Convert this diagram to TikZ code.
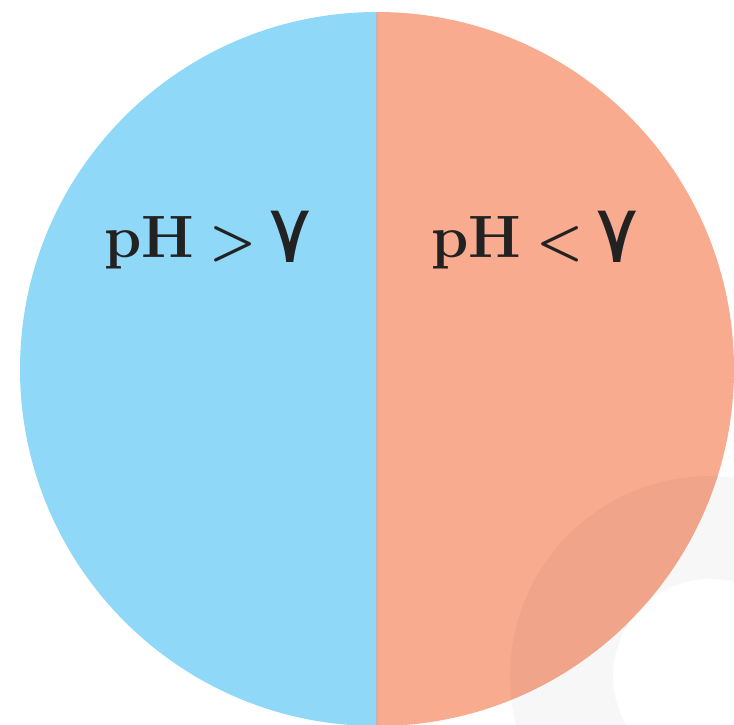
\documentclass[tikz,border=0pt]{standalone}
\usepackage{fontspec}
\newfontfamily\fadigit[Script=Arabic]{DejaVu Sans}
\definecolor{basecol}{HTML}{8FD8F7}
\definecolor{acidcol}{HTML}{F8AB8F}
\definecolor{splitcol}{RGB}{200,178,176}
\definecolor{labelcol}{HTML}{222222}
\newcommand{\phlabel}[3]{
  \node[font=\fontsize{17}{20}\selectfont\bfseries,text=labelcol,anchor=base,inner sep=0pt](#1)at(#2)
    {pH\hspace{0.15cm}{\fontsize{15}{15}\selectfont#3}\hspace{0.12cm}\raisebox{-0.05cm}{\fontsize{23}{23}\fadigit\mdseries ۷}};
}

\begin{document}
\begin{tikzpicture}[x=0.01cm,y=-0.01cm]
  \useasboundingbox(0,0)rectangle(734,724);
  \clip(0,0)rectangle(734,724);
  % two halves
  \fill[basecol](377,12)arc(270:90:357)--cycle;
  \fill[acidcol](377,12)arc(-90:90:357)--cycle;
  \draw[splitcol,line width=0.025cm](377,12)--(377,726);
  % faint ring in the corner
  \fill[black,fill opacity=0.03,even odd rule](710,676)circle(200)(710,676)circle(97);
  \phlabel{base}{208,257}{>}
  \phlabel{acid}{535,257}{<}
\end{tikzpicture}
\end{document}
